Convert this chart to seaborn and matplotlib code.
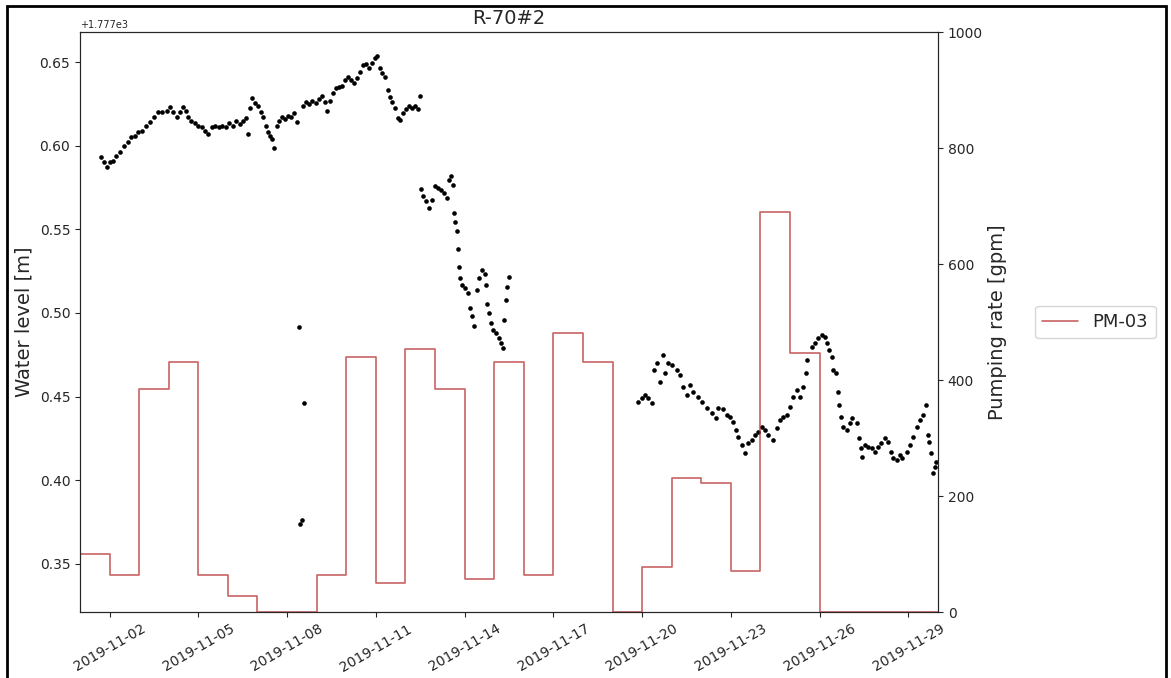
import pandas as pd
import matplotlib
matplotlib.use('Agg')
import matplotlib.pyplot as plt
import matplotlib.dates as mdates
from matplotlib.ticker import MultipleLocator
from matplotlib.patches import Rectangle
import seaborn as sns

START = pd.Timestamp('2019-11-01')

# water level readings: days since 2019-11-01 00:00 and level [m]
wl_days = [
    0.71, 0.81, 0.91, 1.01, 1.11, 1.22, 1.35, 1.49, 1.62, 1.72, 1.86, 1.96, 2.09, 2.23,
    2.36, 2.50, 2.64, 2.77, 2.94, 3.04, 3.14, 3.28, 3.38, 3.48, 3.58, 3.65, 3.75, 3.89,
    3.99, 4.12, 4.22, 4.32, 4.46, 4.56, 4.70, 4.80, 4.93, 5.03, 5.17, 5.27, 5.41, 5.51,
    5.61, 5.68, 5.74, 5.81, 5.91, 6.01, 6.11, 6.18, 6.28, 6.35, 6.42, 6.49, 6.55,
    6.66, 6.72, 6.82, 6.93, 7.03, 7.13, 7.23, 7.33,
    7.40, 7.43, 7.50, 7.57,
    7.53, 7.64, 7.74, 7.84, 7.97, 8.07, 8.18, 8.28, 8.34, 8.45, 8.55, 8.65, 8.75, 8.85,
    8.95, 9.05, 9.16, 9.26, 9.36, 9.46, 9.56, 9.66, 9.76, 9.86, 9.97, 10.03, 10.14,
    10.20, 10.30, 10.41, 10.47, 10.54, 10.64, 10.74, 10.81, 10.91, 11.01, 11.11, 11.22,
    11.32, 11.42, 11.49,
    11.52, 11.59, 11.69, 11.79, 11.89, 11.99, 12.09, 12.20, 12.30, 12.40, 12.47, 12.53,
    12.60, 12.64, 12.67, 12.74, 12.77, 12.80, 12.84, 12.91, 13.01, 13.11, 13.18, 13.24,
    13.31, 13.41, 13.48, 13.58, 13.68, 13.72, 13.75, 13.82, 13.89, 13.95, 14.05, 14.16,
    14.22, 14.29, 14.32, 14.39, 14.43, 14.49,
    18.85, 18.99, 19.09, 19.19, 19.32, 19.39, 19.49, 19.59, 19.70, 19.76, 19.86, 20.00,
    20.17, 20.27, 20.37, 20.51, 20.61, 20.71, 20.88, 21.01, 21.18, 21.35, 21.49, 21.55,
    21.72, 21.86, 21.96, 22.06, 22.16, 22.23, 22.36, 22.47, 22.57, 22.70, 22.80, 22.91,
    23.04, 23.14, 23.24, 23.41, 23.55, 23.65, 23.75, 23.89, 23.99, 24.09, 24.22, 24.32,
    24.43, 24.53, 24.59, 24.73, 24.83, 24.93, 25.07, 25.17, 25.24, 25.30, 25.41, 25.44,
    25.57, 25.61, 25.64, 25.71, 25.78, 25.91, 26.01, 26.11, 26.25, 26.32, 26.39, 26.42,
    26.52, 26.62, 26.76, 26.86, 26.96, 27.09, 27.20, 27.30, 27.40, 27.47, 27.60, 27.70,
    27.80, 27.94, 28.04, 28.14, 28.28, 28.38, 28.48, 28.58, 28.65, 28.68, 28.75, 28.82,
    28.89, 28.95,
]
wl_level = [
    1777.593, 1777.590, 1777.587, 1777.590, 1777.591, 1777.594, 1777.596, 1777.600,
    1777.602, 1777.605, 1777.606, 1777.608, 1777.609, 1777.612, 1777.614, 1777.617,
    1777.620, 1777.620, 1777.621, 1777.623, 1777.620, 1777.617, 1777.620, 1777.623,
    1777.621, 1777.617, 1777.615, 1777.6135, 1777.612, 1777.611, 1777.609, 1777.607,
    1777.611, 1777.612, 1777.611, 1777.612, 1777.611, 1777.6135, 1777.612, 1777.6147,
    1777.613, 1777.615, 1777.6165, 1777.607, 1777.6225, 1777.6285, 1777.6255, 1777.624,
    1777.620, 1777.617, 1777.612, 1777.608, 1777.6057, 1777.604, 1777.5986,
    1777.612, 1777.615, 1777.617, 1777.616, 1777.618, 1777.617, 1777.6195, 1777.614,
    1777.4915, 1777.374, 1777.376, 1777.446,
    1777.624, 1777.626, 1777.625, 1777.627, 1777.6255, 1777.628, 1777.630, 1777.626,
    1777.621, 1777.627, 1777.6315, 1777.6345, 1777.635, 1777.636, 1777.639, 1777.641,
    1777.639, 1777.6375, 1777.6405, 1777.644, 1777.648, 1777.649, 1777.6465, 1777.6494,
    1777.6524, 1777.6536, 1777.6465, 1777.6434, 1777.641, 1777.6333, 1777.629, 1777.626,
    1777.6225, 1777.6165, 1777.6153, 1777.6195, 1777.622, 1777.6236, 1777.6225,
    1777.6236, 1777.622, 1777.6297,
    1777.574, 1777.570, 1777.567, 1777.563, 1777.5675, 1777.576, 1777.5745, 1777.5735,
    1777.5717, 1777.5687, 1777.5794, 1777.5818, 1777.5765, 1777.560, 1777.5543,
    1777.549, 1777.538, 1777.5274, 1777.5208, 1777.5166, 1777.5148, 1777.5119, 1777.503,
    1777.498, 1777.492, 1777.5137, 1777.5208, 1777.5256, 1777.523, 1777.5166, 1777.5053,
    1777.4999, 1777.4939, 1777.4897, 1777.4879, 1777.485, 1777.482, 1777.479, 1777.4957,
    1777.5077, 1777.5155, 1777.5214,
    1777.4467, 1777.449, 1777.4509, 1777.449, 1777.4461, 1777.4658, 1777.470, 1777.4586,
    1777.4748, 1777.464, 1777.470, 1777.4688, 1777.4658, 1777.4628, 1777.4557, 1777.4509,
    1777.4569, 1777.4527, 1777.4497, 1777.4467, 1777.4431, 1777.4401, 1777.4371,
    1777.4431, 1777.4425, 1777.4389, 1777.4377, 1777.4347, 1777.4299, 1777.4257,
    1777.4210, 1777.4162, 1777.4222, 1777.4240, 1777.4269, 1777.4287, 1777.4317,
    1777.4299, 1777.4269, 1777.4240, 1777.4311, 1777.4359, 1777.4377, 1777.4389,
    1777.4437, 1777.4497, 1777.4539, 1777.4497, 1777.4557, 1777.464, 1777.4718, 1777.4796,
    1777.482, 1777.485, 1777.4867, 1777.4856, 1777.482, 1777.4778, 1777.4736, 1777.4658,
    1777.464, 1777.4527, 1777.4449, 1777.4377, 1777.4317, 1777.4299, 1777.4341,
    1777.4371, 1777.4341, 1777.4251, 1777.4192, 1777.4138, 1777.4210, 1777.4198,
    1777.4192, 1777.4168, 1777.4198, 1777.4222, 1777.4251, 1777.4228, 1777.4168,
    1777.4132, 1777.412, 1777.415, 1777.4132, 1777.4168, 1777.4210, 1777.4257, 1777.4317,
    1777.4359, 1777.4389, 1777.4449, 1777.4269, 1777.4228, 1777.4162, 1777.4042,
    1777.4078, 1777.4108,
]

# daily pumping rate of PM-03 [gpm]
pump_dates = pd.date_range('2019-10-31', '2019-11-30', freq='D')
pump_rate = [120, 100, 64, 384, 431, 64, 28, 0, 0, 64, 440, 50, 453, 384, 57, 431,
             64, 481, 431, 0, 78, 231, 222, 71, 690, 447, 0, 0, 0, 0, 0]

wl = pd.DataFrame({'time': START + pd.to_timedelta(wl_days, unit='D'), 'level': wl_level})
pump = pd.DataFrame({'time': pump_dates, 'rate': pump_rate})

sns.set_style('ticks')
fig = plt.figure(figsize=(11.71, 6.78), dpi=100)
ax = fig.add_axes([0.0683, 0.0973, 0.7327, 0.8555])
ax2 = ax.twinx()

sns.scatterplot(data=wl, x='time', y='level', ax=ax, color='black', s=11, linewidth=0)
sns.lineplot(data=pump, x='time', y='rate', ax=ax2, color='firebrick', alpha=0.7,
             lw=1.2, drawstyle='steps-post', label='PM-03')

ax.set_xlim(pd.Timestamp('2019-11-01'), pd.Timestamp('2019-11-30'))
ax.set_ylim(1777.3211, 1777.668)
ax.yaxis.set_major_locator(MultipleLocator(0.05))
ax2.set_ylim(0, 1000)
ax2.yaxis.set_major_locator(MultipleLocator(200))

ax.xaxis.set_major_locator(mdates.DayLocator(bymonthday=[2, 5, 8, 11, 14, 17, 20, 23, 26, 29]))
ax.xaxis.set_major_formatter(mdates.DateFormatter('%Y-%m-%d'))
for lab in ax.get_xticklabels():
    lab.set_rotation(30)
    lab.set_ha('center')

ax.tick_params(labelsize=10)
ax2.tick_params(labelsize=10)
ax.yaxis.get_offset_text().set_fontsize(7)

ax.set_xlabel('')
ax2.set_xlabel('')
ax.set_ylabel('Water level [m]', fontsize=14)
ax2.set_ylabel('Pumping rate [gpm]', fontsize=14)
ax.set_title('R-70#2', fontsize=14)

ax2.legend(loc='center left', bbox_to_anchor=(1.113, 0.5), borderaxespad=0, fontsize=13)

fig.patches.append(Rectangle((0.006, -0.02), 0.9897, 1.011, transform=fig.transFigure,
                             fill=False, edgecolor='black', linewidth=2))

plt.savefig('out.png', dpi=100)
